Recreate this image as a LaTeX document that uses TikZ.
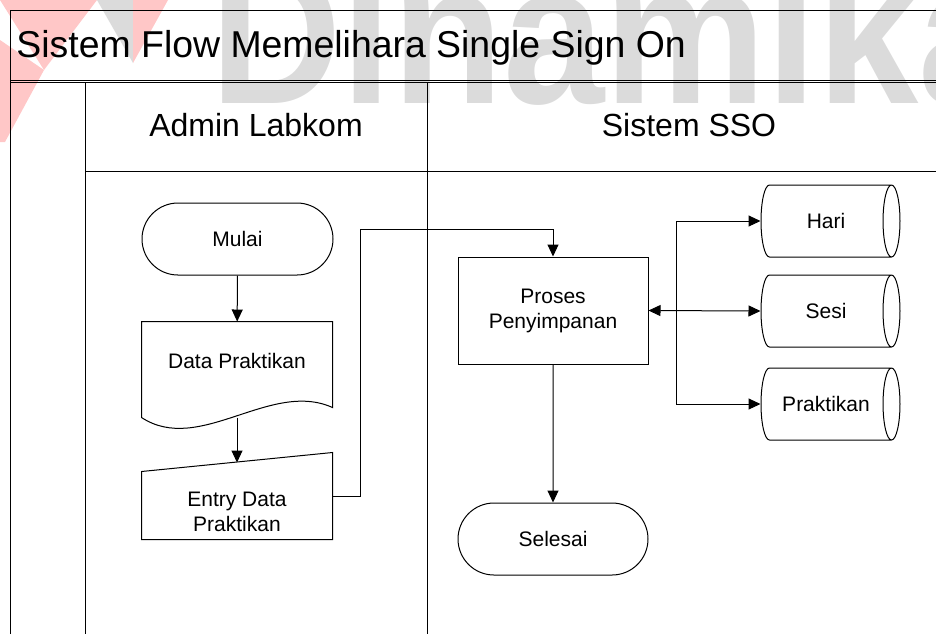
\documentclass[tikz,border=0pt]{standalone}
\usepackage{fontspec}
\setmainfont{Liberation Sans}
\usetikzlibrary{arrows.meta, positioning, shapes.misc, shapes.geometric}

\begin{document}
\begin{tikzpicture}[
    x=0.5pt, y=-0.5pt,
    line width=0.5pt,
    every node/.style={font=\fontsize{10.5}{12.5}\selectfont},
    terminal/.style={
        rounded rectangle,
        draw,
        minimum width=95.5pt,
        minimum height=36pt,
        inner sep=0pt
    },
    procbox/.style={
        rectangle,
        draw,
        align=center,
        minimum width=95pt,
        minimum height=53.5pt
    },
    plainbox/.style={
        rectangle,
        minimum width=95pt,
        inner sep=0pt
    },
    store/.style={
        cylinder,
        draw,
        shape aspect=1.1,
        minimum width=36pt,
        minimum height=69.5pt,
        inner sep=0pt
    },
    lane/.style={font=\fontsize{16}{19}\selectfont},
    arrow/.style={-{Triangle[length=6pt, width=5.5pt]}},
    biarrow/.style={{Triangle[length=6pt, width=5.5pt]}-{Triangle[length=6pt, width=5.5pt]}}
]

\useasboundingbox (0,0) rectangle (936,634);

% watermark
\begin{scope}
    \clip (0,0) rectangle (936,634);
    \fill[red!22] (0,0) -- (97,0) -- (44,70) -- cycle;
    \fill[red!22] (0,40) -- (44,70) -- (5,142) -- (0,142) -- cycle;
    \fill[black!14] (97,0) -- (133,0) -- (133,63) -- cycle;
    \fill[red!22] (133,0) -- (168,0) -- (133,63) -- cycle;
    \node[anchor=base west, inner sep=0pt, text depth=0pt, text=black!14,
          font=\fontsize{91}{91}\bfseries\selectfont] (mark) at (210,103) {\scalebox{1.0}[1.1]{Dinamika}};
\end{scope}

% swimlanes
\draw (10,634) -- (10,10) -- (936,10);
\draw (10,80) -- (936,80);
\draw (10,82.5) -- (936,82.5);
\draw (85,82.5) -- (85,634);
\draw (427,82.5) -- (427,634);
\draw (85,171) -- (936,171);

\node[anchor=base west, inner sep=0pt, font=\fontsize{18.7}{22}\selectfont] (title) at (16,57) {Sistem Flow Memelihara Single Sign On};
\node[lane] (admin) at (256,125) {Admin Labkom};
\node[lane] (sso) at (689,125) {Sistem SSO};

% Admin Labkom
\node[terminal] (mulai) at (237.5,239) {Mulai};
\node[plainbox, minimum height=47.5pt,
      label={[yshift=4.5pt]center:Data Praktikan}] (data) at (237,369.5) {};
\draw (data.south west) -- (data.north west) -- (data.north east) -- ++(0,86)
      .. controls +(-62,-28) and +(58,38) .. (data.south west);
\node[plainbox, minimum height=43pt,
      label={[align=center, yshift=-8pt]center:{Entry Data\\Praktikan}}] (entry) at (237,496) {};
\draw (entry.south west) -- ([yshift=-9.5pt]entry.north west) -- (entry.north east)
      -- (entry.south east) -- cycle;

% Sistem SSO
\node[procbox] (procs) at (553,310.5) {Proses\\Penyimpanan};
\node[terminal, minimum width=95pt] (selesai) at (553,539) {Selesai};
\node[store] (hari) at (826,221) {Hari};
\node[store] (sesi) at (826,311) {Sesi};
\node[store] (prak) at (826,404) {Praktikan};
\coordinate (bus) at ([xshift=14pt]procs.east);

\draw[arrow] (mulai) -- (data);
\draw[arrow] (data.south) -- ([yshift=-5pt]entry.north);
\draw[arrow] (entry.east) -- ++(28,0) |- ([yshift=13.5pt]procs.north) -- (procs.north);
\draw[arrow] (procs) -- (selesai);
\draw[biarrow] (procs.east) -- (sesi.west);
\draw[arrow] (bus) |- (hari.west);
\draw[arrow] (bus) |- (prak.west);

\end{tikzpicture}
\end{document}
